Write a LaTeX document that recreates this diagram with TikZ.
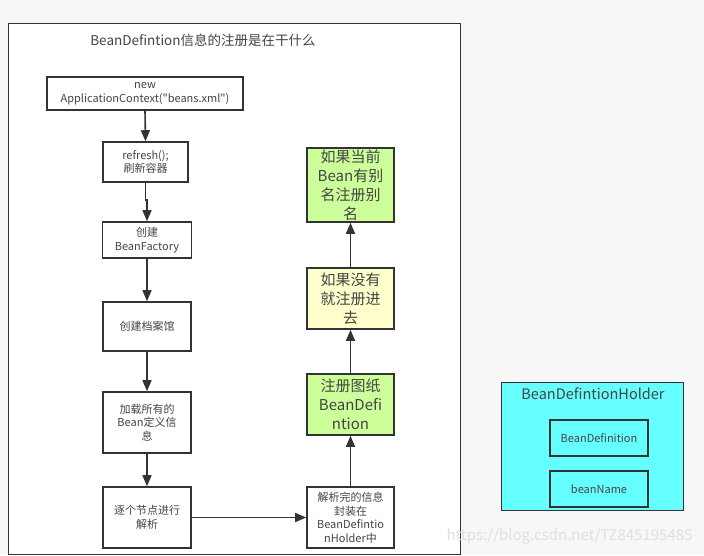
\documentclass[tikz,border=0pt]{standalone}
\usepackage{fontspec}
\setmainfont{Noto Sans CJK SC}[Ligatures=TeXOff]
\usetikzlibrary{arrows.meta}
\definecolor{bgc}{HTML}{F7F7F7}
\definecolor{lc}{HTML}{333333}
\definecolor{tc}{HTML}{444444}
\definecolor{gfill}{HTML}{CCFF99}
\definecolor{yfill}{HTML}{FFFFCC}
\definecolor{cfill}{HTML}{66FFFF}
\tikzset{
  box/.style={draw=lc, line width=1.6pt, fill=white, inner sep=1pt, align=center,
    text=tc, font=\fontsize{11}{13.5}\selectfont},
  bigbox/.style={box, font=\fontsize{15}{19}\selectfont},
  arr/.style={draw=lc, line width=1.6pt, -{Triangle[width=9pt,length=11pt]}},
}
\begin{document}
\begin{tikzpicture}[x=1pt,y=-1pt]
\path[fill=bgc] (0,0) rectangle (704,555);
\useasboundingbox (0,0) rectangle (704,555);
% outer frame
\node[draw=lc, line width=1.4pt, fill=white, minimum width=452pt, minimum height=531pt, inner sep=0pt, anchor=north west] (frame) at (8,22.5) {};
\node[text=tc, font=\fontsize{13.5}{16}\selectfont] (title) at (203,40) {BeanDefintion信息的注册是在干什么};
% left column
\node[box, minimum width=196pt, minimum height=33pt] (b1) at (145,93.5) {new\\ApplicationContext("beans.xml")};
\node[box, minimum width=85pt, minimum height=40pt] (b2) at (145.5,162) {refresh();\\刷新容器};
\node[box, minimum width=89pt, minimum height=36pt] (b3) at (147,240) {创建\\BeanFactory};
\node[box, minimum width=88pt, minimum height=49pt] (b4) at (147,326.5) {创建档案馆};
\node[box, minimum width=88pt, minimum height=61pt] (b5) at (147,422.5) {加载所有的\\Bean定义信\\息};
\node[box, minimum width=88pt, minimum height=61pt] (b6) at (147,517.5) {逐个节点进行\\解析};
% right column
\node[box, minimum width=87pt, minimum height=61pt] (b7) at (350.5,517.5) {解析完的信息\\封装在\\BeanDefintio\\nHolder中};
\node[bigbox, fill=gfill, minimum width=87pt, minimum height=61pt] (b8) at (350.5,404.5) {注册图纸\\BeanDefi\\ntion};
\node[bigbox, fill=yfill, minimum width=87pt, minimum height=61pt] (b9) at (350.5,298.5) {如果没有\\就注册进\\去};
\node[bigbox, fill=gfill, minimum width=87pt, minimum height=74pt, inner sep=0pt] (b10) at (350.5,185) {如果当前\\Bean有别\\名注册别\\名};
% arrows
\draw[arr] (b1.south) -- (b2.north);
\coordinate (j) at (145.5,200);
\draw[arr] (b2.south) -- (j) -| (b3.north);
\draw[arr] (b3.south) -- (b4.north);
\draw[arr] (b4.south) -- (b5.north);
\draw[arr] (b5.south) -- (b6.north);
\draw[arr] (b6.east) -- (b7.west);
\draw[arr] (b7.north) -- (b8.south);
\draw[arr] (b8.north) -- (b9.south);
\draw[arr] (b9.north) -- (b10.south);
% holder
\node[draw=lc, line width=1.4pt, fill=cfill, minimum width=182pt, minimum height=128pt, anchor=north west, inner sep=0pt] (holder) at (501,382) {};
\node[text=tc, font=\fontsize{14.5}{16}\selectfont] (htitle) at (593,394) {BeanDefintionHolder};
\node[box, fill=cfill, minimum width=98pt, minimum height=36pt] (bd) at (599,438) {BeanDefinition};
\node[box, fill=cfill, minimum width=98pt, minimum height=36pt] (bn) at (599,489) {beanName};
% watermark
\node[text=white!88!black, font=\fontsize{15}{17}\selectfont, anchor=east] (wm) at (696,536) {https://blog.csdn.net/TZ845195485};
\end{tikzpicture}
\end{document}
